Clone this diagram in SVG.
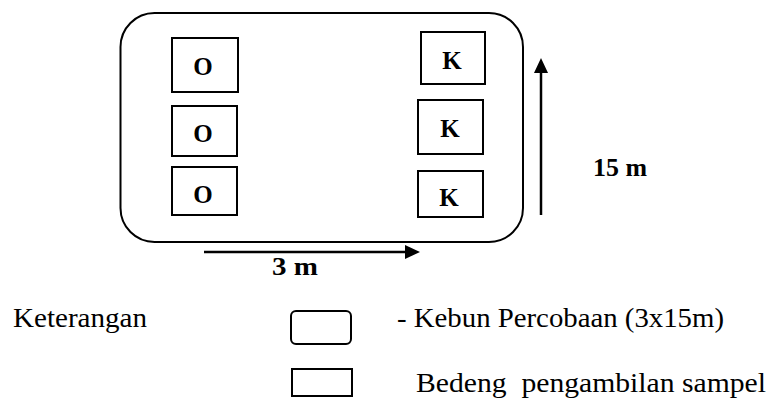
<svg xmlns="http://www.w3.org/2000/svg" width="768" height="401" viewBox="0 0 768 401">
  <style>
    .box { fill: #ffffff; stroke: #000000; stroke-width: 2; }
    .lbl { font-family: "Liberation Serif", "Times New Roman", serif; font-weight: bold; font-size: 25px; fill: #000; text-anchor: middle; }
    .dim { font-family: "Liberation Serif", "Times New Roman", serif; font-weight: bold; font-size: 26px; fill: #000; }
    .leg { font-family: "Liberation Serif", "Times New Roman", serif; font-size: 27px; fill: #000; }
    .arrow { stroke: #000; stroke-width: 2.5; fill: none; }
  </style>
  <defs>
    <marker id="ah" markerUnits="userSpaceOnUse" markerWidth="16" markerHeight="16" refX="1" refY="7" orient="auto">
      <path d="M0,0 L15,7 L0,14 z" fill="#000"/>
    </marker>
  </defs>
  <rect width="768" height="401" fill="#ffffff"/>

  <g id="kebun">
    <rect class="box" x="120.5" y="13" width="402.5" height="229" rx="34" ry="34"/>
  </g>

  <g id="o1"><rect class="box" x="172" y="38" width="66" height="54"/><text class="lbl" x="203" y="75">O</text></g>
  <g id="o2"><rect class="box" x="172" y="106" width="65" height="50"/><text class="lbl" x="203" y="142">O</text></g>
  <g id="o3"><rect class="box" x="172" y="167" width="65" height="48"/><text class="lbl" x="203" y="203">O</text></g>

  <g id="k1"><rect class="box" x="421" y="32" width="64" height="52"/><text class="lbl" x="452" y="69">K</text></g>
  <g id="k2"><rect class="box" x="418" y="100" width="65" height="54"/><text class="lbl" x="450" y="137">K</text></g>
  <g id="k3"><rect class="box" x="418" y="171" width="65" height="46"/><text class="lbl" x="449" y="206">K</text></g>

  <g id="connectors">
    <line class="arrow" x1="204" y1="252" x2="406" y2="252" marker-end="url(#ah)"/>
    <line class="arrow" x1="541" y1="215" x2="541" y2="72" marker-end="url(#ah)"/>
  </g>

  <g id="dim-3m"><text class="dim" x="272" y="275" textLength="46" lengthAdjust="spacingAndGlyphs">3 m</text></g>
  <g id="dim-15m"><text class="dim" x="593" y="176" textLength="54" lengthAdjust="spacingAndGlyphs">15 m</text></g>

  <g id="legend">
    <text class="leg" x="13" y="327" textLength="134" lengthAdjust="spacingAndGlyphs">Keterangan</text>
    <rect class="box" x="291" y="311" width="60" height="33" rx="5" ry="5"/>
    <text class="leg" x="397" y="327" textLength="327" lengthAdjust="spacingAndGlyphs">- Kebun Percobaan (3x15m)</text>
    <rect class="box" x="292" y="369" width="60" height="27"/>
    <text class="leg" x="416" y="392" textLength="350" lengthAdjust="spacingAndGlyphs" xml:space="preserve">Bedeng  pengambilan sampel</text>
  </g>
</svg>
